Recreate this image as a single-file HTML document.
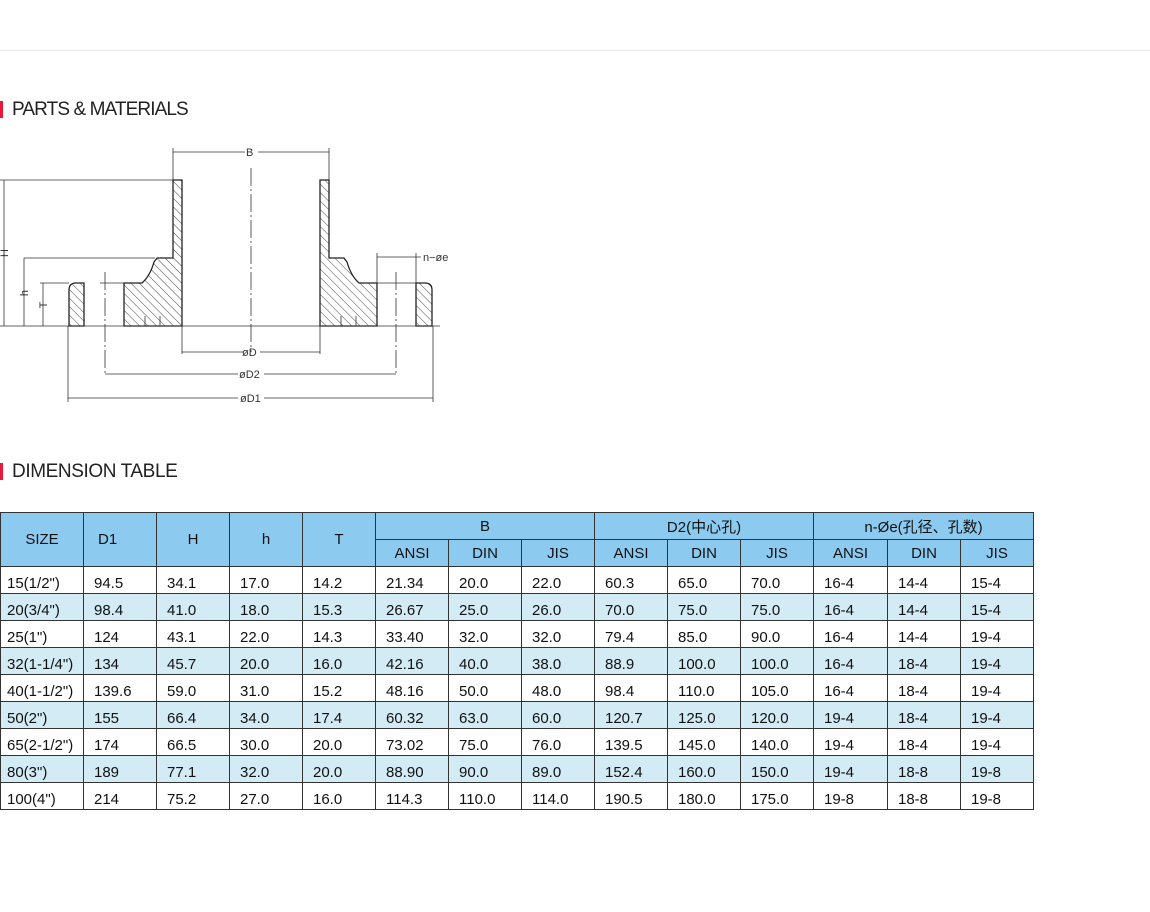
<!DOCTYPE html>
<html><head><meta charset="utf-8"><style>
body{margin:0;width:1150px;height:912px;background:#fff;position:relative;overflow:hidden;font-family:"Liberation Sans","Noto Sans CJK SC",sans-serif;}
.topline{position:absolute;left:0;top:50px;width:1150px;height:1px;background:#e6e6e6;}
.ttl{position:absolute;left:12px;font-size:19px;color:#222;line-height:20px;}
.bar{position:absolute;left:0;width:3px;height:17px;background:#e8173c;}
table{position:absolute;left:0;top:512px;border-collapse:collapse;table-layout:fixed;font-size:15px;color:#111;}
td{border:1px solid #333;height:26px;padding:0;white-space:nowrap;}
tr.h td{background:#8ccbef;text-align:center;}
tr.d td{padding:6px 0 0 10px;box-sizing:border-box;height:27px;}
tr.d:nth-child(even) td{background:#d3ebf4;}
svg{position:absolute;left:0;top:0;}
</style></head><body>
<div class="topline"></div>
<div class="bar" style="top:101px"></div><div class="ttl" style="top:100px;letter-spacing:-0.9px">PARTS &amp; MATERIALS</div>
<div class="bar" style="top:463px"></div><div class="ttl" style="top:462px;letter-spacing:-0.4px">DIMENSION TABLE</div>

<svg width="470" height="420" viewBox="0 0 470 420">
<defs><pattern id="hp" width="6" height="6" patternUnits="userSpaceOnUse" patternTransform="rotate(-45)"><line x1="0" y1="0" x2="0" y2="6" stroke="#333" stroke-width="0.9"/></pattern></defs>
<g stroke="#222" stroke-width="1.3" fill="url(#hp)">
<path d="M69,326 L69,290 Q69,283 76,283 L84,283 L84,326 Z"/>
<path d="M432,326 L432,290 Q432,283 425,283 L416,283 L416,326 Z"/>
<path d="M124,326 L124,283 L142,283 Q150,276 154,262 L157,258 L173,258 L173,180 L182,180 L182,326 Z"/>
<path d="M377,326 L377,283 L359,283 Q351,276 347,262 L344,258 L329,258 L329,180 L320,180 L320,326 Z"/>
</g>
<g stroke="#333" stroke-width="0.8" fill="none">
<line x1="0" y1="326" x2="440" y2="326"/>
<line x1="0" y1="180" x2="173" y2="180"/>
<line x1="24" y1="258" x2="155" y2="258"/>
<line x1="40" y1="283" x2="69" y2="283"/>
<line x1="100" y1="283" x2="124" y2="283"/>
<line x1="377" y1="283" x2="416" y2="283"/>
<line x1="4" y1="180" x2="4" y2="326"/>
<line x1="24" y1="258" x2="24" y2="326"/>
<line x1="43" y1="283" x2="43" y2="326"/>
<line x1="173" y1="148" x2="173" y2="180"/>
<line x1="329" y1="148" x2="329" y2="180"/>
<line x1="173" y1="152" x2="245" y2="152"/><line x1="258" y1="152" x2="329" y2="152"/>
<line x1="251" y1="168" x2="251" y2="352" stroke-dasharray="18,3,2,3"/>
<line x1="105" y1="272" x2="105" y2="374" stroke-dasharray="18,3,2,3"/>
<line x1="396" y1="272" x2="396" y2="374" stroke-dasharray="18,3,2,3"/>
<line x1="182" y1="326" x2="182" y2="354"/><line x1="320" y1="326" x2="320" y2="354"/>
<line x1="68" y1="326" x2="68" y2="402"/><line x1="433" y1="326" x2="433" y2="402"/>
<line x1="182" y1="352" x2="243" y2="352"/><line x1="260" y1="352" x2="320" y2="352"/>
<line x1="105" y1="374" x2="238" y2="374"/><line x1="264" y1="374" x2="396" y2="374"/>
<line x1="68" y1="398" x2="238" y2="398"/><line x1="264" y1="398" x2="433" y2="398"/>
<line x1="377" y1="253" x2="377" y2="283"/><line x1="416" y1="253" x2="416" y2="283"/>
<line x1="377" y1="257" x2="421" y2="257"/>
<line x1="145" y1="316" x2="145" y2="326"/><line x1="160" y1="316" x2="160" y2="326"/>
<line x1="341" y1="316" x2="341" y2="326"/><line x1="356" y1="316" x2="356" y2="326"/>
</g>
<g font-family="Liberation Sans,sans-serif" font-size="11" fill="#333">
<text x="246" y="156">B</text>
<text x="242" y="356">øD</text>
<text x="239" y="378">øD2</text>
<text x="240" y="402">øD1</text>
<text x="423" y="261">n−øe</text>
<text transform="translate(8,253) rotate(-90)" text-anchor="middle">H</text>
<text transform="translate(28,293) rotate(-90)" text-anchor="middle">h</text>
<text transform="translate(47,305) rotate(-90)" text-anchor="middle">T</text>
</g>
</svg>

<table>
<colgroup><col style="width:83px"><col style="width:73px"><col style="width:73px"><col style="width:73px"><col style="width:73px"><col style="width:73px"><col style="width:73px"><col style="width:73px"><col style="width:73px"><col style="width:73px"><col style="width:73px"><col style="width:74px"><col style="width:73px"><col style="width:73px"></colgroup>
<tr class="h"><td rowspan="2">SIZE</td><td rowspan="2" style="text-align:left;padding-left:14px">D1</td><td rowspan="2">H</td><td rowspan="2">h</td><td rowspan="2">T</td><td colspan="3">B</td><td colspan="3">D2(中心孔)</td><td colspan="3">n-Øe(孔径、孔数)</td></tr>
<tr class="h"><td>ANSI</td><td>DIN</td><td>JIS</td><td>ANSI</td><td>DIN</td><td>JIS</td><td>ANSI</td><td>DIN</td><td>JIS</td></tr>
<tr class="d"><td style="padding-left:6px">15(1/2")</td><td>94.5</td><td>34.1</td><td>17.0</td><td>14.2</td><td>21.34</td><td>20.0</td><td>22.0</td><td>60.3</td><td>65.0</td><td>70.0</td><td>16-4</td><td>14-4</td><td>15-4</td></tr>
<tr class="d"><td style="padding-left:6px">20(3/4")</td><td>98.4</td><td>41.0</td><td>18.0</td><td>15.3</td><td>26.67</td><td>25.0</td><td>26.0</td><td>70.0</td><td>75.0</td><td>75.0</td><td>16-4</td><td>14-4</td><td>15-4</td></tr>
<tr class="d"><td style="padding-left:6px">25(1")</td><td>124</td><td>43.1</td><td>22.0</td><td>14.3</td><td>33.40</td><td>32.0</td><td>32.0</td><td>79.4</td><td>85.0</td><td>90.0</td><td>16-4</td><td>14-4</td><td>19-4</td></tr>
<tr class="d"><td style="padding-left:6px">32(1-1/4")</td><td>134</td><td>45.7</td><td>20.0</td><td>16.0</td><td>42.16</td><td>40.0</td><td>38.0</td><td>88.9</td><td>100.0</td><td>100.0</td><td>16-4</td><td>18-4</td><td>19-4</td></tr>
<tr class="d"><td style="padding-left:6px">40(1-1/2")</td><td>139.6</td><td>59.0</td><td>31.0</td><td>15.2</td><td>48.16</td><td>50.0</td><td>48.0</td><td>98.4</td><td>110.0</td><td>105.0</td><td>16-4</td><td>18-4</td><td>19-4</td></tr>
<tr class="d"><td style="padding-left:6px">50(2")</td><td>155</td><td>66.4</td><td>34.0</td><td>17.4</td><td>60.32</td><td>63.0</td><td>60.0</td><td>120.7</td><td>125.0</td><td>120.0</td><td>19-4</td><td>18-4</td><td>19-4</td></tr>
<tr class="d"><td style="padding-left:6px">65(2-1/2")</td><td>174</td><td>66.5</td><td>30.0</td><td>20.0</td><td>73.02</td><td>75.0</td><td>76.0</td><td>139.5</td><td>145.0</td><td>140.0</td><td>19-4</td><td>18-4</td><td>19-4</td></tr>
<tr class="d"><td style="padding-left:6px">80(3")</td><td>189</td><td>77.1</td><td>32.0</td><td>20.0</td><td>88.90</td><td>90.0</td><td>89.0</td><td>152.4</td><td>160.0</td><td>150.0</td><td>19-4</td><td>18-8</td><td>19-8</td></tr>
<tr class="d"><td style="padding-left:6px">100(4")</td><td>214</td><td>75.2</td><td>27.0</td><td>16.0</td><td>114.3</td><td>110.0</td><td>114.0</td><td>190.5</td><td>180.0</td><td>175.0</td><td>19-8</td><td>18-8</td><td>19-8</td></tr>
</table>
</body></html>
